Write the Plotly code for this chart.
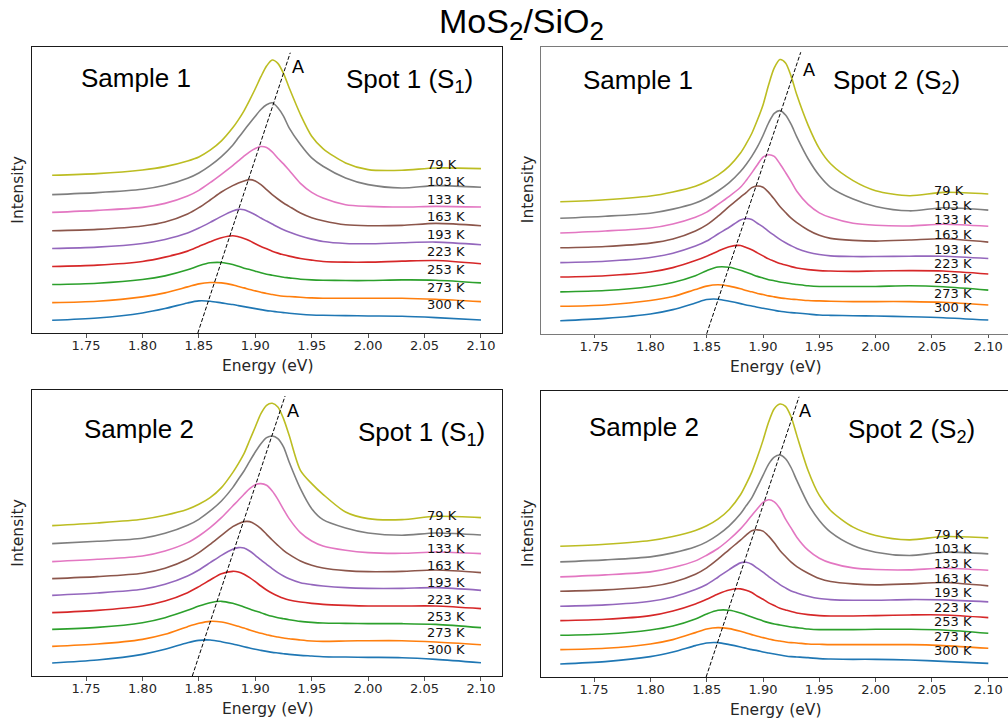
import plotly.graph_objects as go

# ---------------- data ----------------
ENERGY = [1.72, 1.76, 1.80, 1.82, 1.84, 1.85, 1.86, 1.87, 1.88, 1.885, 1.89, 1.895, 1.90,
          1.905, 1.91, 1.915, 1.92, 1.925, 1.93, 1.94, 1.95, 1.96, 1.98, 2.00, 2.03, 2.06, 2.10]

TEMPS = ["79 K", "103 K", "133 K", "163 K", "193 K", "223 K", "253 K", "273 K", "300 K"]
COLORS = ["#bcbd22", "#7f7f7f", "#e377c2", "#8c564b", "#9467bd", "#d62728", "#2ca02c", "#ff7f0e", "#1f77b4"]

# offset spectra (a.u.), rows in TEMPS order
SAMPLE1_SPOT1 = [
    [473, 478, 489, 499, 516, 528, 548, 576, 615, 639, 666, 698, 732, 768, 800, 818, 808, 778, 735, 655, 590, 553, 510, 490, 488, 495, 493],
    [415, 421, 431, 443, 464, 480, 502, 529, 563, 585, 607, 629, 650, 670, 684, 690, 675, 650, 615, 565, 525, 500, 465, 445, 435, 442, 437],
    [362, 368, 377, 389, 411, 428, 451, 476, 502, 516, 530, 543, 553, 559, 556, 543, 524, 507, 488, 449, 422, 405, 385, 380, 378, 380, 378],
    [307, 311, 321, 333, 357, 376, 399, 423, 442, 450, 456, 460, 456, 445, 430, 415, 402, 390, 380, 360, 346, 337, 325, 322, 323, 329, 322],
    [254, 258, 269, 281, 300, 315, 332, 350, 366, 371, 370, 363, 355, 345, 336, 327, 318, 310, 303, 291, 282, 275, 269, 268, 271, 273, 265],
    [200, 204, 215, 228, 246, 260, 274, 286, 292, 289, 284, 277, 268, 260, 253, 246, 240, 235, 231, 224, 219, 215, 213, 213, 216, 218, 208],
    [146, 150, 161, 172, 190, 202, 211, 212, 206, 201, 195, 191, 186, 181, 177, 174, 171, 168, 166, 162, 160, 159, 158, 158, 160, 159, 151],
    [92, 96, 109, 121, 139, 148, 152, 151, 145, 140, 136, 131, 127, 123, 119, 116, 113, 111, 110, 108, 106, 105, 105, 105, 105, 102, 95],
    [39, 46, 61, 74, 91, 97, 96, 91, 86, 83, 80, 77, 74, 71, 68, 66, 64, 62, 60, 57, 55, 54, 53, 52, 51, 47, 40],
]

SAMPLE1_SPOT2 = [
    [392, 398, 409, 421, 438, 452, 471, 498, 537, 564, 595, 635, 680, 740, 790, 815, 805, 765, 710, 620, 550, 505, 455, 425, 410, 420, 415],
    [343, 349, 358, 370, 388, 403, 424, 449, 482, 503, 527, 555, 589, 627, 655, 663, 650, 622, 585, 520, 470, 435, 400, 378, 365, 374, 367],
    [299, 305, 314, 326, 346, 361, 384, 408, 435, 455, 478, 502, 525, 532, 527, 505, 479, 452, 423, 384, 359, 345, 328, 322, 320, 325, 319],
    [255, 259, 269, 281, 305, 323, 349, 378, 406, 419, 434, 439, 435, 420, 400, 378, 360, 343, 330, 308, 292, 283, 277, 275, 278, 282, 272],
    [211, 215, 226, 239, 260, 275, 296, 316, 338, 342, 339, 328, 317, 304, 292, 280, 270, 261, 253, 242, 235, 231, 229, 229, 230, 230, 223],
    [168, 172, 183, 196, 217, 230, 245, 258, 262, 256, 249, 240, 231, 222, 215, 208, 204, 199, 195, 190, 187, 186, 185, 186, 187, 186, 177],
    [124, 128, 140, 152, 172, 187, 198, 197, 188, 182, 176, 170, 165, 160, 157, 153, 151, 148, 146, 142, 140, 140, 140, 140, 142, 139, 129],
    [81, 85, 98, 110, 131, 141, 145, 141, 133, 128, 124, 119, 116, 112, 109, 106, 104, 102, 101, 98, 97, 96, 95, 95, 95, 93, 85],
    [38, 45, 58, 71, 91, 101, 102, 96, 89, 85, 82, 78, 75, 72, 69, 66, 64, 62, 61, 58, 55, 54, 53, 52, 50, 47, 40],
]

SAMPLE2_SPOT1 = [
    [504, 512, 523, 535, 553, 568, 588, 618, 663, 690, 720, 760, 800, 840, 865, 871, 860, 825, 775, 670, 630, 598, 545, 525, 522, 532, 528],
    [450, 457, 466, 481, 505, 523, 548, 578, 618, 643, 668, 697, 725, 750, 768, 773, 765, 740, 695, 615, 555, 522, 497, 482, 475, 482, 476],
    [396, 403, 413, 428, 453, 473, 498, 528, 563, 580, 598, 615, 627, 630, 625, 608, 583, 553, 525, 483, 458, 443, 430, 423, 421, 425, 420],
    [345, 351, 361, 376, 403, 423, 448, 475, 501, 510, 516, 516, 508, 495, 478, 461, 445, 430, 418, 398, 385, 377, 369, 366, 367, 371, 363],
    [295, 302, 313, 328, 353, 371, 393, 415, 433, 438, 437, 428, 415, 401, 388, 375, 363, 353, 345, 333, 327, 323, 318, 316, 316, 318, 310],
    [243, 250, 263, 278, 303, 321, 341, 360, 367, 365, 358, 348, 336, 323, 311, 301, 293, 286, 281, 275, 271, 268, 265, 263, 263, 263, 255],
    [193, 199, 213, 228, 250, 263, 273, 277, 271, 266, 260, 254, 248, 243, 237, 232, 228, 225, 222, 217, 214, 212, 211, 210, 210, 208, 198],
    [142, 149, 163, 178, 201, 211, 217, 215, 207, 202, 197, 191, 186, 181, 177, 173, 170, 167, 165, 161, 158, 157, 158, 159, 159, 155, 147],
    [92, 101, 118, 133, 153, 160, 161, 156, 149, 145, 141, 137, 133, 130, 127, 124, 122, 120, 118, 115, 113, 111, 110, 109, 108, 103, 93],
]

SAMPLE2_SPOT2 = [
    [443, 449, 460, 472, 490, 504, 524, 553, 597, 629, 665, 710, 760, 815, 855, 869, 862, 830, 775, 670, 595, 550, 500, 475, 462, 472, 468],
    [396, 402, 411, 423, 441, 456, 477, 504, 540, 564, 588, 621, 655, 689, 710, 716, 705, 678, 640, 570, 520, 485, 445, 425, 415, 425, 420],
    [351, 357, 366, 379, 399, 416, 436, 463, 495, 514, 535, 555, 574, 582, 576, 556, 524, 497, 470, 431, 407, 393, 378, 373, 372, 377, 371],
    [308, 312, 322, 335, 359, 378, 404, 433, 461, 476, 489, 492, 488, 473, 453, 430, 412, 395, 382, 362, 346, 337, 330, 327, 330, 334, 324],
    [263, 267, 278, 291, 313, 328, 350, 373, 393, 395, 389, 377, 365, 352, 340, 328, 318, 309, 303, 293, 286, 283, 281, 281, 283, 282, 276],
    [220, 224, 235, 249, 270, 284, 300, 312, 315, 311, 304, 293, 284, 273, 265, 257, 252, 247, 243, 238, 235, 234, 234, 235, 237, 237, 229],
    [176, 180, 192, 204, 225, 240, 251, 251, 243, 237, 231, 225, 219, 214, 210, 207, 204, 201, 199, 195, 193, 193, 193, 194, 194, 192, 182],
    [133, 137, 150, 163, 184, 195, 199, 196, 188, 183, 178, 173, 169, 165, 161, 159, 156, 154, 153, 150, 149, 148, 148, 148, 148, 145, 137],
    [90, 97, 112, 126, 145, 153, 154, 148, 141, 137, 133, 130, 126, 123, 120, 117, 114, 112, 111, 109, 106, 105, 104, 104, 102, 98, 92],
]

# peak-A guide line endpoints (energy at bottom, energy at top)
A_LINE_S1_SP1 = [1.849, 1.931]
A_LINE_S1_SP2 = [1.850, 1.9335]
A_LINE_S2_SP1 = [1.8442, 1.9264]
A_LINE_S2_SP2 = [1.8495, 1.932]

TICKS = [1.75, 1.80, 1.85, 1.90, 1.95, 2.00, 2.05, 2.10]

# ---------------- layout helpers ----------------
W, H = 1008, 723
def px_x(v): return v / W
def px_y(v): return 1 - v / H

panels = [
    dict(data=SAMPLE1_SPOT1, aline=A_LINE_S1_SP1, sample="Sample 1", spot="Spot 1 (S<sub>1</sub>)",
         xd=[px_x(32.3), px_x(502.3)], yd=[px_y(333.3), px_y(47)], xr=[1.7024, 2.1189], frame="#1a1a1a",
         sample_pos=(136, 78), spot_pos=(409, 80), a_pos=(298, 67), lab=(0.591, 0.100),
         ytitle_x=18.5, xtitle=(267.5, 366), right=True),
    dict(data=SAMPLE1_SPOT2, aline=A_LINE_S1_SP2, sample="Sample 1", spot="Spot 2 (S<sub>2</sub>)",
         xd=[px_x(541), 1.0], yd=[px_y(333.8), px_y(46.5)], xr=[1.7029, 2.1175], frame="#7a7a7a",
         sample_pos=(638, 80), spot_pos=(896, 81), a_pos=(809, 70), lab=(0.498, 0.091),
         ytitle_x=528, xtitle=(775.5, 367), right=False),
    dict(data=SAMPLE2_SPOT1, aline=A_LINE_S2_SP1, sample="Sample 2", spot="Spot 1 (S<sub>1</sub>)",
         xd=[px_x(32.3), px_x(502.3)], yd=[px_y(676), px_y(390.3)], xr=[1.7024, 2.1189], frame="#1a1a1a",
         sample_pos=(139, 428.5), spot_pos=(421, 433), a_pos=(293, 411), lab=(0.5625, 0.092),
         ytitle_x=18.5, xtitle=(267.5, 709), right=True),
    dict(data=SAMPLE2_SPOT2, aline=A_LINE_S2_SP2, sample="Sample 2", spot="Spot 2 (S<sub>2</sub>)",
         xd=[px_x(541), 1.0], yd=[px_y(677), px_y(391)], xr=[1.7029, 2.1175], frame="#1a1a1a",
         sample_pos=(644, 427), spot_pos=(911, 430), a_pos=(805, 411), lab=(0.499, 0.091),
         ytitle_x=528, xtitle=(775.5, 710), right=False),
]

fig = go.Figure()
annotations = []
shapes = []
layout_axes = {}

for i, p in enumerate(panels, start=1):
    xa = "x" if i == 1 else f"x{i}"
    ya = "y" if i == 1 else f"y{i}"
    xkey = "xaxis" if i == 1 else f"xaxis{i}"
    ykey = "yaxis" if i == 1 else f"yaxis{i}"

    # draw 300 K first so colder spectra are on top
    for row in reversed(range(len(TEMPS))):
        fig.add_trace(go.Scatter(
            x=ENERGY, y=p["data"][row], mode="lines", xaxis=xa, yaxis=ya,
            line=dict(color=COLORS[row], width=1.6, shape="spline", smoothing=0.8),
            showlegend=False, hoverinfo="skip"))

    allv = [v for r in p["data"] for v in r]
    lo, hi = min(allv), max(allv)
    span = hi - lo
    yr = [lo - 0.05 * span, hi + 0.05 * span]

    layout_axes[xkey] = dict(
        domain=p["xd"], anchor=ya, range=p["xr"], tickvals=TICKS, tickformat=".2f",
        ticks="outside", ticklen=3.5, tickwidth=1, tickcolor="#555555",
        ticklabelstandoff=-3,
        showline=True, linecolor=p["frame"], linewidth=1, mirror=True,
        showgrid=False, zeroline=False,
        tickfont=dict(family="DejaVu Sans", size=13, color="#262626"))
    layout_axes[ykey] = dict(
        domain=p["yd"], anchor=xa, range=yr, showticklabels=False, ticks="",
        showline=True, linecolor=p["frame"], linewidth=1, mirror=p["right"],
        showgrid=False, zeroline=False)

    # dashed guide line for exciton A
    shapes.append(dict(type="line", xref=xa, yref=f"{ya} domain",
                       x0=p["aline"][0], x1=p["aline"][1], y0=0, y1=0.98,
                       line=dict(color="black", width=1, dash="4px,2px")))

    # temperature labels
    top, bot = p["lab"]
    for k, t in enumerate(TEMPS):
        annotations.append(dict(text=t, x=2.05, xref=xa, y=top - k * (top - bot) / 8,
                                yref=f"{ya} domain", xanchor="left", yanchor="middle",
                                showarrow=False,
                                font=dict(family="DejaVu Sans", size=13, color="#111111")))

    big = dict(family="Liberation Sans, Arial", size=26, color="black")
    annotations.append(dict(text=p["sample"], x=px_x(p["sample_pos"][0]), y=px_y(p["sample_pos"][1]),
                            xref="paper", yref="paper", xanchor="center", yanchor="middle",
                            showarrow=False, font=big))
    annotations.append(dict(text=p["spot"], x=px_x(p["spot_pos"][0]), y=px_y(p["spot_pos"][1]),
                            xref="paper", yref="paper", xanchor="center", yanchor="middle",
                            showarrow=False, font=big))
    annotations.append(dict(text="A", x=px_x(p["a_pos"][0]), y=px_y(p["a_pos"][1]),
                            xref="paper", yref="paper", xanchor="center", yanchor="middle",
                            showarrow=False, font=dict(family="Liberation Sans, Arial", size=18, color="black")))
    # axis titles
    annotations.append(dict(text="Energy (eV)", x=px_x(p["xtitle"][0]), y=px_y(p["xtitle"][1]),
                            xref="paper", yref="paper", xanchor="center", yanchor="middle",
                            showarrow=False, font=dict(family="DejaVu Sans", size=15.5, color="#262626")))
    annotations.append(dict(text="Intensity", x=px_x(p["ytitle_x"]), y=(p["yd"][0] + p["yd"][1]) / 2,
                            xref="paper", yref="paper", xanchor="center", yanchor="middle",
                            textangle=-90, showarrow=False,
                            font=dict(family="DejaVu Sans", size=15.5, color="#262626")))

annotations.append(dict(
    text="MoS<sub><span style='font-size:26px'>2</span></sub>/SiO<sub><span style='font-size:26px'>2</span></sub>",
    x=px_x(521), y=px_y(24), xref="paper", yref="paper", xanchor="center", yanchor="middle",
    showarrow=False, font=dict(family="Liberation Sans, Arial", size=34, color="black")))

fig.update_layout(
    width=W, height=H, margin=dict(l=0, r=0, t=0, b=0),
    paper_bgcolor="white", plot_bgcolor="white",
    annotations=annotations, shapes=shapes, showlegend=False,
    **layout_axes)

fig.write_html("out.html")
